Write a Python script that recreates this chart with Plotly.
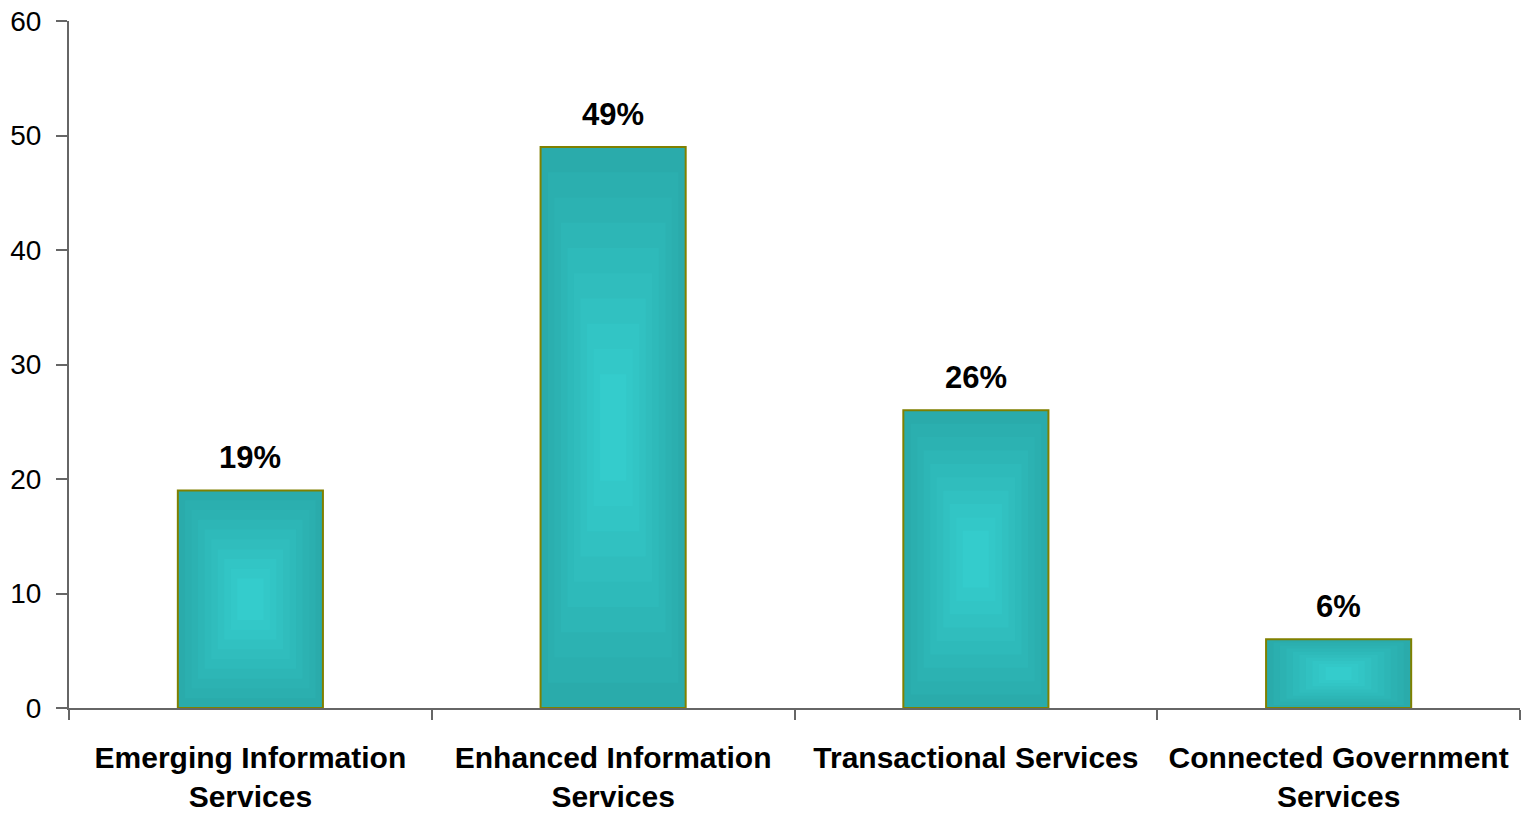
import plotly.graph_objects as go

categories = ["Emerging Information<br>Services", "Enhanced Information<br>Services",
              "Transactional Services", "Connected Government<br>Services"]
values = [19, 49, 26, 6]
value_labels = ["19%", "49%", "26%", "6%"]
y_ticks = [0, 10, 20, 30, 40, 50, 60]

BAR_W = 0.4
edge = (0x2A, 0xAB, 0xAB)
center = (0x34, 0xCC, 0xCC)
FONT = "Liberation Sans, Arial"

fig = go.Figure()
# outer bar with outline
fig.add_trace(go.Bar(
    x=categories, y=values, width=BAR_W,
    marker=dict(color="#2AABAB", line=dict(color="#808000", width=2)),
    hoverinfo="skip", showlegend=False,
))
# nested inner bars to mimic the rectangular gradient
n = 10
for k in range(1, n):
    t = 0.5 * k / n * 0.9
    frac = k / (n - 1)
    col = tuple(int(round(edge[i] + (center[i] - edge[i]) * frac)) for i in range(3))
    fig.add_trace(go.Bar(
        x=categories,
        y=[v * (1 - 2 * t) for v in values],
        base=[v * t for v in values],
        width=BAR_W * (1 - 2 * t) - 0.004,
        marker=dict(color="rgb(%d,%d,%d)" % col, line=dict(width=0)),
        hoverinfo="skip", showlegend=False,
    ))

annotations = [
    dict(x=c, y=v, text=lab, showarrow=False, yanchor="bottom", yshift=13,
         font=dict(family=FONT, size=31, color="black", weight="bold"))
    for c, v, lab in zip(categories, values, value_labels)
]

fig.update_layout(
    barmode="overlay",
    width=1526, height=813,
    margin=dict(l=69, r=6, t=21, b=105, autoexpand=False),
    paper_bgcolor="white", plot_bgcolor="white",
    font=dict(family=FONT, color="black"),
    annotations=annotations,
)
fig.update_xaxes(
    type="category", tickson="boundaries", ticks="outside", ticklen=10,
    tickcolor="#666666", tickwidth=2,
    showline=True, linecolor="#666666", linewidth=2,
    showgrid=False, zeroline=False, automargin=False,
    tickfont=dict(family=FONT, size=30, color="black", weight="bold"),
    ticklabelstandoff=22,
)
fig.update_yaxes(
    range=[0, 60], tickvals=y_ticks, ticks="outside", ticklen=11,
    tickcolor="#666666", tickwidth=2,
    showline=True, linecolor="#666666", linewidth=2,
    showgrid=False, zeroline=False, automargin=False,
    tickfont=dict(family=FONT, size=28, color="black"),
    ticklabelstandoff=9,
)

fig.write_html("out.html", config={"displayModeBar": False},
               post_script="document.body.style.margin='0';document.body.style.padding='0';")
